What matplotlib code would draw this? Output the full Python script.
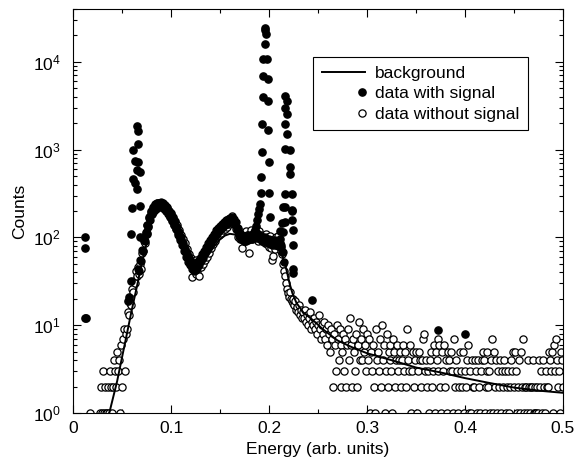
import numpy as np
import matplotlib
matplotlib.use('Agg')
import matplotlib.pyplot as plt
from matplotlib.legend_handler import HandlerLine2D
from matplotlib.ticker import MultipleLocator, LogLocator, FuncFormatter, NullFormatter

plt.rcParams['font.family'] = 'Liberation Sans'
plt.rcParams['mathtext.fontset'] = 'custom'
plt.rcParams['mathtext.rm'] = 'Liberation Sans'
plt.rcParams['mathtext.it'] = 'Liberation Sans:italic'
plt.rcParams['font.size'] = 12.5

# channel energies, 0.015 ... 0.500 in steps of 0.001
energy = np.round(0.015 + 0.001 * np.arange(486), 3)

# data without signal (counts per channel)
counts_without = [
    0, 0, 1, 0, 0, 0, 0, 0, 0, 0,            # 0.015
    0, 0, 0, 1, 2, 1, 3, 1, 2, 1,            # 0.025
    1, 2, 1, 3, 2, 1, 2, 4, 3, 2,            # 0.035
    5, 3, 4, 1, 6, 2, 7, 9, 3, 8,            # 0.045
    9, 14, 13, 18, 17, 26, 24, 32, 30, 42,   # 0.055
    36, 46, 38, 50, 44, 66, 70, 90, 86, 112,
    110, 138, 135, 172, 175, 200, 186, 220, 205, 238,
    210, 245, 220, 250, 226, 240, 228, 246, 218, 232,
    200, 218, 195, 200, 172, 190, 155, 170, 140, 152,
    125, 138, 112, 120, 98, 108, 88, 96, 78, 86,       # 0.105
    66, 74, 58, 64, 50, 58, 35, 48, 44, 52,
    38, 56, 42, 48, 36, 52, 46, 58, 50, 64,
    55, 70, 60, 78, 66, 84, 76, 92, 84, 102,
    92, 112, 104, 118, 108, 128, 112, 134, 122, 140,
    126, 148, 130, 156, 142, 168, 150, 175, 160, 145,  # 0.155
    150, 125, 128, 100, 112, 96, 115, 75, 100, 90,
    110, 92, 118, 95, 108, 67, 100, 120, 96, 104,
    115, 98, 108, 122, 90, 118, 100, 106, 92, 98,
    104, 86, 110, 84, 100, 78, 104, 75, 55, 62,
    96, 74, 100, 82, 104, 84, 86, 70, 64, 50,          # 0.205
    42, 36, 30, 26, 23, 21, 24, 20, 19, 18,
    20, 17, 19, 15, 16, 14, 17, 13, 15, 12,
    14, 12, 15, 11, 13, 10, 12, 14, 9, 11,
    10, 12, 9, 11, 8, 10, 13, 9, 7, 10,
    8, 11, 7, 9, 6, 10, 8, 5, 9, 7,                    # 0.255
    2, 8, 6, 3, 10, 7, 4, 9, 6, 2,
    5, 8, 3, 7, 2, 6, 9, 4, 12, 6,
    2, 7, 5, 3, 8, 2, 6, 11, 4, 7,
    4, 9, 5, 6, 3, 8, 4, 7, 1, 5,
    3, 6, 2, 1, 9, 4, 5, 3, 7, 2,                      # 0.305
    10, 4, 6, 1, 3, 8, 2, 5, 4, 6,
    3, 1, 7, 5, 2, 4, 6, 3, 4, 5,
    2, 4, 6, 3, 5, 2, 9, 4, 3, 6,
    1, 3, 5, 2, 4, 5, 1, 3, 5, 4,
    2, 4, 7, 8, 3, 4, 2, 3, 1, 4,                      # 0.355
    5, 2, 3, 6, 1, 5, 4, 7, 3, 6,
    2, 1, 5, 3, 6, 2, 4, 1, 5, 4,
    3, 5, 3, 1, 7, 2, 4, 3, 1, 2,
    5, 3, 2, 5, 1, 3, 2, 4, 6, 1,
    3, 1, 4, 2, 2, 4, 3, 1, 4, 2,                      # 0.405
    1, 3, 4, 5, 4, 1, 2, 3, 5, 2,
    3, 1, 4, 7, 1, 5, 2, 4, 1, 3,
    2, 4, 1, 3, 2, 4, 3, 1, 2, 3,
    1, 2, 4, 3, 5, 2, 5, 3, 1, 2,
    4, 1, 5, 2, 7, 1, 2, 2, 1, 4,                      # 0.455
    2, 1, 2, 2, 4, 1, 2, 1, 1, 2,
    1, 4, 2, 3, 1, 4, 2, 1, 3, 2,
    2, 5, 4, 3, 5, 1, 6, 3, 7, 4,
    2, 3, 1, 5, 4, 2,                                  # 0.495
]

# data with signal, continuum part over 0.066 ... 0.215 (same channel grid)
with_start = 51   # index of 0.066 in energy
counts_with = [
    44, 41, 55, 54, 72, 70, 93, 90, 115, 112,          # 0.066
    140, 132, 165, 158, 195, 183, 215, 200, 236, 215,
    250, 222, 245, 225, 255, 228, 242, 212, 228, 202,
    220, 186, 198, 170, 185, 158, 165, 140, 148, 124,
    130, 108, 114, 94, 100, 82, 86, 70, 74, 60,        # 0.106
    66, 53, 58, 48, 52, 44, 49, 42, 48, 43,
    50, 45, 54, 49, 58, 54, 64, 58, 70, 66,
    78, 72, 86, 80, 94, 88, 102, 95, 110, 103,
    120, 110, 128, 118, 136, 126, 144, 132, 150, 138,
    157, 144, 162, 150, 168, 154, 170, 150, 162, 140,  # 0.156
    148, 122, 128, 105, 112, 96, 106, 94, 104, 92,
    104, 92, 106, 94, 106, 95, 108, 96, 110, 98,
    110, 98, 112, 98, 108, 96, 105, 92, 100, 90,
    100, 88, 97, 86, 96, 85, 94, 83, 93, 83,
    93, 82, 91, 80, 88, 77, 82, 68, 68, 52,            # 0.206
]

# data with signal: points that stand apart (peaks and outliers)
sig_energy = [0.012, 0.012, 0.012, 0.013,
              0.0565, 0.057, 0.059, 0.059, 0.060, 0.061, 0.0616, 0.0633, 0.0633,
              0.065, 0.065, 0.0657, 0.066, 0.066, 0.0667, 0.0684, 0.0684, 0.0684,
              0.186, 0.187, 0.188, 0.189, 0.190, 0.191, 0.1915, 0.1915, 0.1925,
              0.1925, 0.1935, 0.194, 0.194, 0.1955, 0.196, 0.196, 0.1966, 0.1976,
              0.1986, 0.1986, 0.1993, 0.2003, 0.2003, 0.201,
              0.211, 0.211, 0.212, 0.213, 0.2146, 0.2146,
              0.2163, 0.2163, 0.2163, 0.2163, 0.2163, 0.2163, 0.2163,
              0.218, 0.218, 0.2187, 0.2214, 0.2214, 0.2214,
              0.2231, 0.2231, 0.2231, 0.2231, 0.2242, 0.2242, 0.2248, 0.2248,
              0.2436, 0.3728, 0.400]
sig_counts = [100, 76, 12, 12,
              19, 21, 32, 110, 218, 460, 980, 750, 420,
              580, 355, 1870, 1160, 720, 1650, 550, 230, 100,
              120, 135, 156, 186, 210, 240, 320, 490, 930,
              1950, 4000, 6900, 10700, 24500, 15800, 22900, 20600, 10700,
              6300, 3600, 1670, 730, 318, 170,
              118, 95, 78, 145, 220, 114,
              4100, 3000, 1950, 1020, 315, 220, 150,
              3600, 2550, 1500, 980, 630, 530,
              315, 200, 156, 205, 120, 83, 44, 39,
              19.6, 8.8, 8.0]

# background curve
bg_energy = [0.037, 0.045, 0.050, 0.055, 0.060, 0.065, 0.070, 0.075, 0.080,
             0.085, 0.090, 0.095, 0.100, 0.105, 0.110, 0.115, 0.120, 0.125,
             0.130, 0.135, 0.140, 0.145, 0.150, 0.155, 0.160, 0.165, 0.170,
             0.175, 0.180, 0.190, 0.200, 0.205, 0.210, 0.214, 0.218, 0.221,
             0.224, 0.228, 0.235, 0.245, 0.255, 0.270, 0.285, 0.300, 0.325,
             0.350, 0.375, 0.400, 0.425, 0.450, 0.475, 0.500]
bg_counts = [1.0, 2.3, 4.3, 8.0, 15, 27, 50, 85, 150,
             210, 230, 215, 185, 150, 115, 88, 65, 52,
             50, 56, 68, 82, 95, 105, 110, 108, 100,
             95, 92, 91, 90, 88, 80, 60, 42, 30,
             23, 18, 14, 11.4, 9.0, 6.7, 5.6, 4.8, 4.0,
             3.3, 2.9, 2.5, 2.2, 1.95, 1.8, 1.7]


class EndMarker(HandlerLine2D):
    # single legend marker placed at the right end of the handle
    def get_xdata(self, legend, xdescent, ydescent, width, height, fontsize):
        m = -xdescent + 0.93 * width
        return np.array([m, m]), np.array([m])


cw = np.array(counts_without, dtype=float)
keep = cw > 0
with_energy = energy[with_start:with_start + len(counts_with)]

fig = plt.figure(figsize=(5.75, 4.62), dpi=100)
ax = fig.add_axes([0.127, 0.106, 0.852, 0.8745])
ax.set_yscale('log')

p_nosig, = ax.plot(energy[keep], cw[keep], 'o', mfc='white', mec='black', mew=0.9,
                   ms=5.2, zorder=2, label='data without signal')
ax.plot(with_energy, counts_with, 'o', color='black', ms=5.0, zorder=3)
p_sig, = ax.plot(sig_energy, sig_counts, 'o', color='black', ms=5.2, zorder=3,
                 label='data with signal')
p_bg, = ax.plot(bg_energy, bg_counts, '-', color='black', lw=1.4, zorder=4,
                label='background')

ax.set_xlim(0, 0.5)
ax.set_ylim(1, 4e4)
ax.xaxis.set_major_locator(MultipleLocator(0.1))
ax.xaxis.set_minor_locator(MultipleLocator(0.05))
ax.xaxis.set_major_formatter(FuncFormatter(lambda v, p: '0' if abs(v) < 1e-9 else f'{v:.1f}'))
ax.yaxis.set_major_locator(LogLocator(base=10, numticks=10))
ax.yaxis.set_minor_locator(LogLocator(base=10, subs=np.arange(2, 10), numticks=20))
ax.yaxis.set_minor_formatter(NullFormatter())
ax.tick_params(which='both', direction='in', top=True, right=True, width=0.8)
ax.tick_params(which='major', length=6)
ax.tick_params(which='minor', length=3)
ax.tick_params(axis='y', which='major', pad=9)
ax.tick_params(axis='x', which='major', pad=6)
for s in ax.spines.values():
    s.set_linewidth(0.8)

ax.set_xlabel('Energy (arb. units)', labelpad=4)
ax.set_ylabel('Counts', labelpad=4)

leg = ax.legend([p_bg, p_sig, p_nosig],
                ['background', 'data with signal', 'data without signal'],
                loc='upper left', bbox_to_anchor=(0.49, 0.881), borderaxespad=0,
                handlelength=2.5, handletextpad=0.55, borderpad=0.5,
                labelspacing=0.3, fancybox=False, framealpha=1, edgecolor='black',
                handler_map={p_sig: EndMarker(numpoints=1), p_nosig: EndMarker(numpoints=1)})
leg.get_frame().set_linewidth(0.8)

fig.savefig('out.png', dpi=100)
